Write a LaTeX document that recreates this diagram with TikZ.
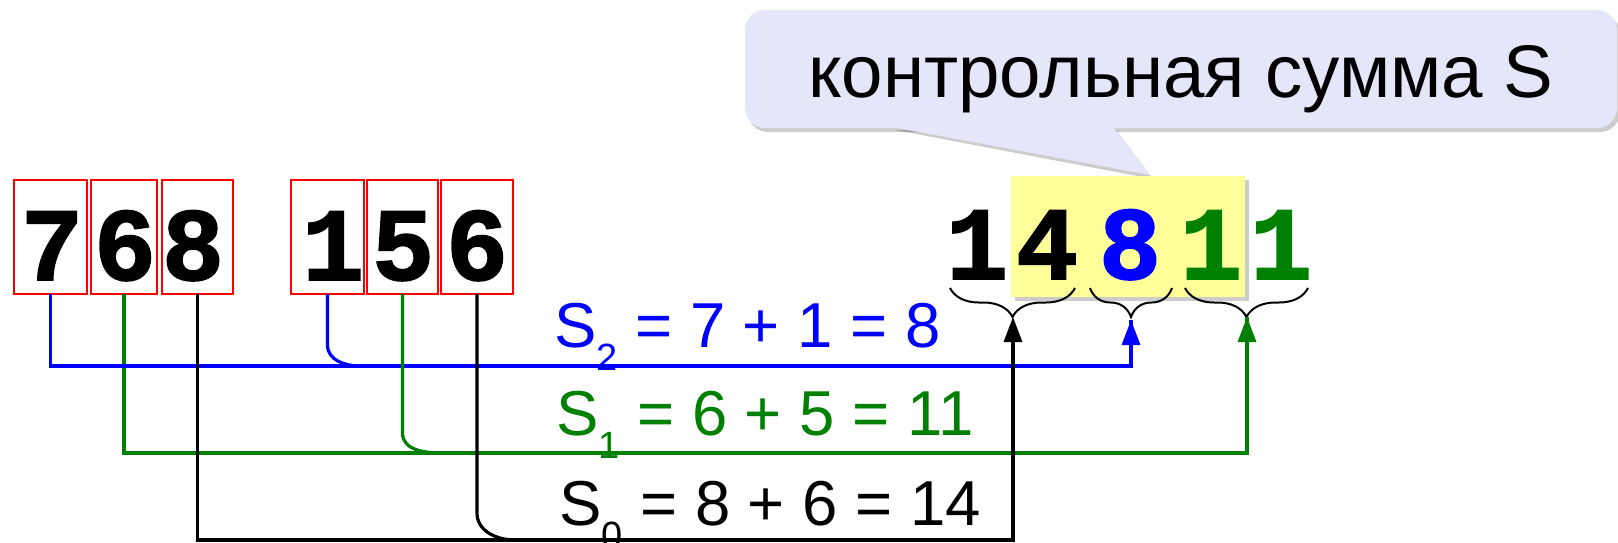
\documentclass[tikz,border=0pt]{standalone}
\usepackage{fontspec}
\setmainfont{Liberation Sans}
\newfontfamily\digitfont[FakeBold=1.5]{Liberation Mono Bold}
\usetikzlibrary{arrows.meta,decorations.pathreplacing}
\definecolor{lav}{RGB}{230,230,250}
\definecolor{hl}{RGB}{255,255,153}
\definecolor{gr}{RGB}{0,128,0}
\definecolor{bl}{RGB}{0,0,255}
\newcommand\eqsub[1]{\raisebox{-23pt}{\fontsize{38}{38}\selectfont #1}}
\begin{document}
\begin{tikzpicture}[x=1pt,y=-1pt,
  digitbox/.style={draw=red,line width=2pt,minimum height=114pt,inner sep=0pt,outer sep=0pt},
  bigdigit/.style={font=\digitfont\fontsize{104}{104}\selectfont,anchor=base,inner sep=0pt},
  eqn/.style={font=\fontsize{63.5}{63.5}\selectfont,anchor=base west,inner sep=0pt},
  conn/.style={line width=3.2pt},
  tipped/.style={-{Triangle[length=25pt,width=18pt]}},
  curly/.style={draw,line width=2pt,decorate,decoration={brace,mirror,amplitude=29pt}},
  shadowfill/.style={fill=black,opacity=0.2}]
\useasboundingbox (0,0) rectangle (1618,543);
\clip (0,0) rectangle (1618,543);

% callout shadow and body
\begin{scope}[shift={(3,4)}]
  \fill[shadowfill,rounded corners=20pt] (745,10) rectangle (1617,128);
  \fill[shadowfill] (892,126) -- (1150,175) -- (1113,126) -- cycle;
\end{scope}
\fill[lav,rounded corners=20pt] (745,10) rectangle (1617,128);
\fill[lav] (892,127) -- (1150,175) -- (1113,127) -- cycle;
\node[anchor=base,font=\fontsize{74.5}{80}\selectfont,inner sep=0pt] (ct) at (1181,97) {контрольная сумма S};

% highlight
\fill[shadowfill] (1015,180) rectangle (1249,301);
\fill[hl] (1011,176) rectangle (1245,297);

% boxes
\node[digitbox,minimum width=73pt] (b1) at (50.5,237) {};
\node[digitbox,minimum width=66pt] (b2) at (124,237) {};
\node[digitbox,minimum width=71pt] (b3) at (197.5,237) {};
\node[digitbox,minimum width=73pt] (b4) at (327.5,237) {};
\node[digitbox,minimum width=71pt] (b5) at (402.5,237) {};
\node[digitbox,minimum width=72pt] (b6) at (477,237) {};

\node[bigdigit] (d1) at (52,280) {7};
\node[bigdigit] (d2) at (125,280) {6};
\node[bigdigit] (d3) at (193,280) {8};
\node[bigdigit] (d4) at (333,280) {1};
\node[bigdigit] (d5) at (403,280) {5};
\node[bigdigit] (d6) at (477,280) {6};

\node[bigdigit] (r1) at (977,279) {1};
\node[bigdigit] (r2) at (1047,279) {4};
\node[bigdigit,text=bl] (r3) at (1130,279) {8};
\node[bigdigit,text=gr] (r4) at (1211,279) {1};
\node[bigdigit,text=gr] (r5) at (1281,279) {1};

% braces
\coordinate (k1a) at (950,288); \coordinate (k1b) at (1075,288);
\coordinate (k2a) at (1090,288); \coordinate (k2b) at (1172,288);
\coordinate (k3a) at (1185,288); \coordinate (k3b) at (1308,288);
\draw[curly] (k1a) -- (k1b);
\draw[curly] (k2a) -- (k2b);
\draw[curly] (k3a) -- (k3b);
\coordinate (t0) at (1013,317);
\coordinate (t2) at (1131,320);
\coordinate (t1) at (1247,317);

% equations
\node[eqn,text=bl] (e2) at (554,347) {S\eqsub{2} = 7 + 1 = 8};
\node[eqn,text=gr] (e1) at (556,435) {S\eqsub{1} = 6 + 5 = 11};
\node[eqn,text=black] (e0) at (559,525) {S\eqsub{0} = 8 + 6 = 14};

% connectors
\draw[conn,gr,line join=miter] (b2.south) |- (t1 |- 0,453) -- (t1);
\draw[conn,bl,line join=miter] (b1.south) |- (t2 |- 0,366) -- (t2);
\draw[conn,black] (b6.south) -- (b6.south |- 0,513) to[out=-90,in=180] (515,540);
\draw[conn,gr] (b5.south) -- (b5.south |- 0,433) to[out=-90,in=180] (443,453);
\draw[conn,bl] (b4.south) -- (b4.south |- 0,345) to[out=-90,in=180] (360,366);
\draw[conn,black,line join=miter,tipped] (b3.south) |- (t0 |- 0,540) -- (t0);
\draw[conn,bl,tipped] (t2 |- 0,368) -- (t2);
\draw[conn,gr,tipped] (t1 |- 0,455) -- (t1);
\end{tikzpicture}
\end{document}
